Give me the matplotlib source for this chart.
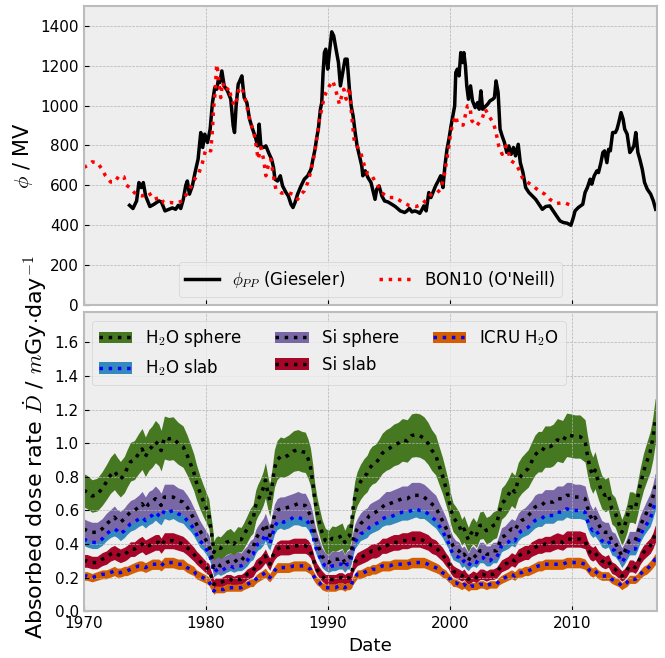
import matplotlib.pyplot as plt
import numpy as np
from matplotlib.ticker import MultipleLocator

# Force-field potential, Gieseler monthly series
phi_pp_year = [1973.75, 1974.03, 1974.33, 1974.52, 1974.71, 1974.88, 1975.07, 1975.42, 1975.75, 1976.16,
               1976.36, 1976.66, 1976.99, 1977.26, 1977.53, 1977.75, 1977.95, 1978.16, 1978.36, 1978.49,
               1978.66, 1978.90, 1979.12, 1979.37, 1979.59, 1979.75, 1979.92, 1980.14, 1980.36, 1980.55,
               1980.74, 1980.90, 1981.04, 1981.15, 1981.32, 1981.51, 1981.78, 1982.05, 1982.25, 1982.36,
               1982.49, 1982.66, 1982.79, 1982.96, 1983.15, 1983.37, 1983.59, 1983.84, 1984.08, 1984.25,
               1984.38, 1984.52, 1984.74, 1984.93, 1985.21, 1985.40, 1985.56, 1985.67, 1985.89, 1986.11,
               1986.30, 1986.58, 1986.77, 1986.99, 1987.15, 1987.32, 1987.53, 1987.81, 1988.08, 1988.36,
               1988.63, 1988.79, 1988.96, 1989.10, 1989.23, 1989.40, 1989.51, 1989.62, 1989.73, 1989.84,
               1990.00, 1990.14, 1990.33, 1990.49, 1990.68, 1990.88, 1991.04, 1991.23, 1991.42, 1991.59,
               1991.78, 1991.92, 1992.08, 1992.25, 1992.41, 1992.60, 1992.79, 1992.88, 1993.07, 1993.29,
               1993.55, 1993.75, 1993.88, 1994.02, 1994.21, 1994.44, 1994.66, 1994.93, 1995.26, 1995.54,
               1995.95, 1996.31, 1996.50, 1996.69, 1996.91, 1997.13, 1997.36, 1997.55, 1997.74, 1997.88,
               1998.07, 1998.29, 1998.46, 1998.62, 1998.84, 1999.06, 1999.26, 1999.45, 1999.61, 1999.78,
               1999.94, 2000.11, 2000.28, 2000.41, 2000.50, 2000.63, 2000.77, 2000.91, 2001.05, 2001.16,
               2001.29, 2001.40, 2001.54, 2001.71, 2001.87, 2002.09, 2002.29, 2002.42, 2002.56, 2002.70,
               2002.92, 2003.11, 2003.31, 2003.53, 2003.67, 2003.80, 2003.97, 2004.13, 2004.30, 2004.49,
               2004.68, 2004.85, 2005.04, 2005.23, 2005.40, 2005.62, 2005.79, 2006.01, 2006.23, 2006.50,
               2006.78, 2007.05, 2007.33, 2007.60, 2007.88, 2008.21, 2008.48, 2008.76, 2009.04, 2009.31,
               2009.64, 2009.94, 2010.14, 2010.28, 2010.55, 2010.91, 2011.10, 2011.29, 2011.52, 2011.65,
               2011.85, 2012.07, 2012.20, 2012.40, 2012.56, 2012.70, 2012.89, 2013.03, 2013.17, 2013.36,
               2013.58, 2013.72, 2013.86, 2014.05, 2014.22, 2014.35, 2014.55, 2014.77, 2014.96, 2015.10,
               2015.26, 2015.43, 2015.59, 2015.79, 2015.98, 2016.20, 2016.48, 2016.70, 2016.89]
phi_pp = [500, 484, 522, 614, 589, 614, 547, 494, 505, 522,
          517, 472, 480, 487, 480, 500, 484, 530, 600, 622,
          556, 597, 664, 731, 865, 790, 857, 815, 882, 1015,
          1091, 1082, 1132, 1116, 1174, 1099, 1074, 1032, 898, 865,
          999, 1107, 1124, 1149, 1040, 1015, 932, 882, 840, 798,
          907, 798, 790, 798, 756, 731, 689, 631, 622, 648,
          597, 564, 547, 505, 489, 514, 556, 597, 631, 648,
          681, 731, 781, 840, 882, 982, 1015, 1166, 1266, 1283,
          1183, 1266, 1370, 1350, 1283, 1216, 1099, 1166, 1233, 1233,
          1082, 999, 949, 865, 798, 748, 698, 648, 673, 640,
          614, 564, 530, 581, 597, 547, 522, 517, 505, 494,
          472, 464, 472, 484, 467, 472, 467, 460, 480, 497,
          472, 564, 539, 564, 597, 622, 648, 589, 698, 781,
          832, 898, 957, 999, 1166, 1183, 1149, 1266, 1216, 1266,
          1199, 1099, 1032, 1099, 1024, 990, 1015, 982, 1074, 982,
          995, 1007, 1024, 1032, 1040, 1124, 1066, 882, 848, 815,
          765, 798, 756, 790, 748, 806, 714, 664, 589, 564,
          547, 530, 505, 480, 494, 497, 472, 447, 422, 414,
          410, 400, 439, 472, 489, 505, 564, 589, 631, 606,
          648, 673, 664, 714, 765, 773, 714, 781, 773, 865,
          865, 882, 915, 965, 932, 882, 857, 765, 781, 798,
          865, 765, 731, 681, 614, 581, 556, 522, 480]

# BON10 (O'Neill) potential
bon10_year = [1970.00, 1970.27, 1970.68, 1971.10, 1971.50, 1971.78, 1972.20, 1972.55, 1972.88, 1973.29,
              1973.48, 1973.92, 1974.25, 1974.79, 1975.34, 1975.70, 1976.30, 1976.58, 1977.07, 1977.62,
              1978.08, 1978.49, 1978.82, 1979.12, 1979.45, 1979.73, 1980.00, 1980.41, 1980.55, 1980.63,
              1980.74, 1980.82, 1980.90, 1981.01, 1981.12, 1981.23, 1981.37, 1981.64, 1981.92, 1982.05,
              1982.33, 1982.55, 1982.74, 1983.01, 1983.21, 1983.42, 1983.64, 1983.84, 1984.03, 1984.19,
              1984.30, 1984.52, 1984.74, 1984.93, 1985.12, 1985.34, 1985.62, 1985.75, 1986.22, 1986.71,
              1987.12, 1987.53, 1987.81, 1988.08, 1988.36, 1988.55, 1988.77, 1988.96, 1989.10, 1989.23,
              1989.34, 1989.51, 1989.67, 1989.86, 1990.14, 1990.41, 1990.60, 1990.82, 1990.96, 1991.15,
              1991.32, 1991.51, 1991.78, 1991.92, 1992.05, 1992.19, 1992.47, 1992.74, 1993.01, 1993.29,
              1993.60, 1993.94, 1994.29, 1994.57, 1994.98, 1995.54, 1996.09, 1996.64, 1997.25, 1997.74,
              1998.24, 1998.57, 1998.98, 1999.26, 1999.53, 1999.72, 1999.94, 2000.08, 2000.28, 2000.50,
              2000.63, 2000.83, 2001.10, 2001.27, 2001.46, 2001.65, 2001.82, 2002.20, 2002.64, 2002.92,
              2003.19, 2003.58, 2003.80, 2004.02, 2004.30, 2004.63, 2005.04, 2005.45, 2005.73, 2006.01,
              2006.42, 2006.83, 2007.33, 2007.80, 2008.21, 2008.76, 2009.37, 2009.94]
bon10 = [690, 698, 718, 714, 681, 648, 617, 617, 648, 643,
         602, 581, 556, 547, 564, 530, 539, 511, 514, 511,
         522, 564, 597, 634, 664, 714, 781, 773, 882, 982,
         1049, 1132, 1207, 1166, 1091, 1040, 1116, 1074, 1091, 1049,
         999, 1032, 1091, 1082, 1040, 982, 924, 882, 840, 773,
         731, 790, 731, 648, 698, 731, 622, 581, 561, 564,
         556, 530, 556, 572, 614, 656, 714, 773, 832, 890,
         940, 982, 1032, 1066, 1099, 1124, 1091, 1040, 1007, 1049,
         1082, 1032, 1091, 982, 898, 815, 790, 756, 698, 656,
         651, 614, 581, 556, 539, 539, 517, 500, 494, 505,
         539, 561, 564, 581, 639, 714, 798, 865, 915, 949,
         912, 907, 902, 949, 999, 995, 924, 898, 932, 982,
         949, 915, 865, 798, 756, 798, 723, 706, 673, 631,
         614, 597, 572, 556, 530, 509, 514, 500]

# Absorbed dose rate (mGy/day) for the five target geometries
dose_year = [1970.00, 1970.27, 1970.68, 1971.09, 1971.50, 1971.86, 1972.19, 1972.51, 1972.73, 1973.00,
             1973.33, 1973.55, 1973.83, 1974.15, 1974.51, 1974.78, 1975.05, 1975.33, 1975.60, 1975.87,
             1976.15, 1976.34, 1976.61, 1976.97, 1977.32, 1977.73, 1978.14, 1978.47, 1978.74, 1979.02,
             1979.23, 1979.51, 1979.78, 1980.05, 1980.25, 1980.38, 1980.55, 1980.66, 1980.79, 1980.98,
             1981.20, 1981.48, 1981.69, 1982.02, 1982.30, 1982.62, 1982.90, 1983.11, 1983.39, 1983.66,
             1983.88, 1984.10, 1984.26, 1984.48, 1984.70, 1984.89, 1985.08, 1985.25, 1985.44, 1985.63,
             1985.85, 1986.12, 1986.38, 1986.79, 1987.21, 1987.56, 1987.89, 1988.16, 1988.38, 1988.58,
             1988.77, 1988.93, 1989.12, 1989.32, 1989.53, 1989.81, 1990.08, 1990.36, 1990.63, 1990.90,
             1991.18, 1991.40, 1991.59, 1991.78, 1991.95, 1992.05, 1992.22, 1992.41, 1992.68, 1992.96,
             1993.23, 1993.42, 1993.64, 1993.92, 1994.19, 1994.47, 1994.79, 1995.07, 1995.42, 1995.78,
             1996.11, 1996.52, 1996.88, 1997.21, 1997.53, 1997.89, 1998.22, 1998.52, 1998.85, 1999.12,
             1999.40, 1999.67, 1999.89, 2000.08, 2000.27, 2000.49, 2000.77, 2000.99, 2001.18, 2001.37,
             2001.53, 2001.73, 2001.92, 2002.19, 2002.47, 2002.74, 2003.01, 2003.29, 2003.56, 2003.84,
             2004.05, 2004.25, 2004.52, 2004.79, 2005.07, 2005.34, 2005.62, 2005.89, 2006.16, 2006.44,
             2006.71, 2006.99, 2007.26, 2007.53, 2007.81, 2008.22, 2008.49, 2008.82, 2009.26, 2009.59,
             2009.92, 2010.27, 2010.68, 2011.10, 2011.29, 2011.51, 2011.73, 2011.92, 2012.19, 2012.47,
             2012.74, 2013.01, 2013.29, 2013.56, 2013.84, 2014.11, 2014.30, 2014.52, 2014.74, 2015.01,
             2015.21, 2015.40, 2015.62, 2015.89, 2016.16, 2016.44, 2016.66, 2016.85, 2017.00]
h2o_sphere = [0.72, 0.71, 0.686, 0.694, 0.73, 0.77, 0.81, 0.834, 0.81, 0.786,
              0.814, 0.85, 0.89, 0.90, 0.94, 0.966, 0.92, 0.96, 0.98, 1.01,
              0.99, 0.956, 1.034, 1.026, 1.03, 1.0, 0.98, 0.93, 0.88, 0.826,
              0.77, 0.71, 0.66, 0.614, 0.58, 0.51, 0.43, 0.35, 0.37, 0.38,
              0.374, 0.394, 0.41, 0.42, 0.40, 0.43, 0.426, 0.45, 0.49, 0.53,
              0.55, 0.63, 0.66, 0.69, 0.73, 0.78, 0.71, 0.66, 0.75, 0.85,
              0.90, 0.92, 0.914, 0.93, 0.954, 0.96, 0.95, 0.946, 0.91, 0.86,
              0.77, 0.67, 0.59, 0.53, 0.47, 0.42, 0.41, 0.434, 0.43, 0.44,
              0.45, 0.41, 0.44, 0.45, 0.51, 0.60, 0.68, 0.73, 0.77, 0.80,
              0.82, 0.85, 0.87, 0.88, 0.906, 0.94, 0.96, 0.97, 0.99, 1.0,
              1.02, 1.014, 1.046, 1.05, 1.046, 1.03, 1.0, 0.96, 0.93, 0.87,
              0.81, 0.74, 0.68, 0.61, 0.56, 0.54, 0.51, 0.47, 0.49, 0.454,
              0.426, 0.46, 0.48, 0.455, 0.51, 0.514, 0.48, 0.49, 0.51, 0.52,
              0.58, 0.64, 0.66, 0.69, 0.73, 0.71, 0.78, 0.81, 0.83, 0.85,
              0.89, 0.93, 0.95, 0.95, 0.98, 0.98, 0.99, 1.02, 1.01, 1.05,
              1.046, 1.04, 1.04, 1.014, 0.93, 0.85, 0.81, 0.84, 0.77, 0.71,
              0.69, 0.70, 0.61, 0.59, 0.53, 0.47, 0.50, 0.55, 0.62, 0.62,
              0.61, 0.67, 0.75, 0.83, 0.89, 0.95, 1.03, 1.13, 1.12]
si_sphere = [0.49, 0.48, 0.47, 0.47, 0.49, 0.52, 0.54, 0.56, 0.54, 0.53,
             0.55, 0.57, 0.59, 0.60, 0.62, 0.64, 0.61, 0.64, 0.65, 0.67,
             0.65, 0.63, 0.68, 0.68, 0.68, 0.66, 0.65, 0.62, 0.59, 0.55,
             0.52, 0.48, 0.45, 0.42, 0.40, 0.36, 0.31, 0.26, 0.27, 0.28,
             0.27, 0.28, 0.29, 0.30, 0.29, 0.31, 0.30, 0.32, 0.34, 0.37,
             0.38, 0.43, 0.45, 0.47, 0.49, 0.52, 0.48, 0.45, 0.51, 0.57,
             0.60, 0.61, 0.61, 0.62, 0.63, 0.64, 0.63, 0.63, 0.60, 0.57,
             0.52, 0.46, 0.41, 0.37, 0.33, 0.30, 0.29, 0.31, 0.31, 0.31,
             0.32, 0.29, 0.31, 0.32, 0.36, 0.41, 0.46, 0.49, 0.52, 0.54,
             0.55, 0.57, 0.58, 0.59, 0.60, 0.62, 0.64, 0.64, 0.65, 0.66,
             0.67, 0.67, 0.69, 0.69, 0.69, 0.68, 0.66, 0.64, 0.62, 0.58,
             0.54, 0.50, 0.46, 0.42, 0.39, 0.37, 0.36, 0.33, 0.34, 0.32,
             0.30, 0.33, 0.34, 0.32, 0.36, 0.36, 0.34, 0.34, 0.36, 0.36,
             0.40, 0.44, 0.45, 0.47, 0.49, 0.48, 0.52, 0.54, 0.55, 0.57,
             0.59, 0.62, 0.63, 0.63, 0.65, 0.65, 0.65, 0.67, 0.67, 0.69,
             0.69, 0.68, 0.68, 0.67, 0.62, 0.57, 0.54, 0.56, 0.52, 0.48,
             0.47, 0.47, 0.42, 0.41, 0.37, 0.33, 0.35, 0.38, 0.42, 0.42,
             0.42, 0.46, 0.51, 0.55, 0.59, 0.63, 0.68, 0.74, 0.73]
h2o_slab = [0.43, 0.42, 0.41, 0.41, 0.43, 0.46, 0.48, 0.49, 0.48, 0.46,
            0.48, 0.50, 0.52, 0.53, 0.55, 0.56, 0.54, 0.56, 0.57, 0.59,
            0.57, 0.56, 0.60, 0.59, 0.60, 0.58, 0.57, 0.54, 0.52, 0.49,
            0.46, 0.42, 0.40, 0.37, 0.35, 0.32, 0.27, 0.23, 0.24, 0.25,
            0.24, 0.25, 0.26, 0.27, 0.26, 0.27, 0.27, 0.28, 0.30, 0.33,
            0.34, 0.38, 0.40, 0.41, 0.43, 0.46, 0.42, 0.40, 0.45, 0.50,
            0.53, 0.54, 0.53, 0.54, 0.56, 0.56, 0.55, 0.55, 0.53, 0.50,
            0.46, 0.40, 0.36, 0.33, 0.29, 0.27, 0.26, 0.27, 0.27, 0.28,
            0.28, 0.26, 0.28, 0.28, 0.32, 0.36, 0.41, 0.43, 0.46, 0.47,
            0.48, 0.50, 0.51, 0.52, 0.53, 0.55, 0.56, 0.56, 0.57, 0.58,
            0.59, 0.59, 0.60, 0.61, 0.60, 0.60, 0.58, 0.56, 0.54, 0.51,
            0.48, 0.44, 0.41, 0.37, 0.34, 0.33, 0.32, 0.29, 0.30, 0.28,
            0.27, 0.29, 0.30, 0.29, 0.32, 0.32, 0.30, 0.30, 0.32, 0.32,
            0.35, 0.39, 0.40, 0.41, 0.43, 0.42, 0.46, 0.48, 0.49, 0.50,
            0.52, 0.54, 0.55, 0.55, 0.57, 0.57, 0.57, 0.59, 0.59, 0.61,
            0.60, 0.60, 0.60, 0.59, 0.54, 0.50, 0.48, 0.49, 0.46, 0.42,
            0.41, 0.42, 0.37, 0.36, 0.33, 0.29, 0.31, 0.34, 0.37, 0.37,
            0.37, 0.40, 0.45, 0.49, 0.52, 0.55, 0.60, 0.65, 0.64]
si_slab = [0.30, 0.30, 0.29, 0.29, 0.31, 0.32, 0.34, 0.35, 0.34, 0.33,
           0.34, 0.35, 0.37, 0.37, 0.39, 0.40, 0.38, 0.39, 0.40, 0.41,
           0.41, 0.39, 0.42, 0.42, 0.42, 0.41, 0.40, 0.38, 0.36, 0.34,
           0.32, 0.30, 0.28, 0.26, 0.25, 0.22, 0.19, 0.16, 0.17, 0.17,
           0.17, 0.18, 0.19, 0.19, 0.18, 0.19, 0.19, 0.20, 0.22, 0.23,
           0.24, 0.27, 0.28, 0.29, 0.31, 0.33, 0.30, 0.28, 0.32, 0.35,
           0.37, 0.38, 0.38, 0.38, 0.39, 0.39, 0.39, 0.39, 0.38, 0.36,
           0.32, 0.28, 0.25, 0.23, 0.21, 0.19, 0.19, 0.19, 0.19, 0.20,
           0.20, 0.19, 0.20, 0.20, 0.22, 0.26, 0.29, 0.31, 0.32, 0.33,
           0.34, 0.35, 0.36, 0.36, 0.37, 0.39, 0.39, 0.40, 0.41, 0.41,
           0.42, 0.42, 0.43, 0.43, 0.43, 0.42, 0.41, 0.39, 0.38, 0.36,
           0.34, 0.31, 0.29, 0.26, 0.24, 0.23, 0.22, 0.21, 0.22, 0.20,
           0.19, 0.20, 0.21, 0.20, 0.22, 0.22, 0.21, 0.22, 0.22, 0.23,
           0.25, 0.27, 0.28, 0.29, 0.31, 0.30, 0.33, 0.34, 0.35, 0.35,
           0.37, 0.38, 0.39, 0.39, 0.40, 0.40, 0.41, 0.42, 0.41, 0.43,
           0.43, 0.43, 0.43, 0.42, 0.38, 0.35, 0.34, 0.35, 0.32, 0.30,
           0.29, 0.30, 0.26, 0.25, 0.23, 0.21, 0.22, 0.24, 0.27, 0.27,
           0.26, 0.28, 0.32, 0.35, 0.37, 0.39, 0.42, 0.46, 0.46]
icru_h2o = [0.21, 0.21, 0.20, 0.21, 0.22, 0.22, 0.23, 0.24, 0.23, 0.23,
            0.24, 0.24, 0.25, 0.26, 0.27, 0.27, 0.26, 0.27, 0.28, 0.28,
            0.28, 0.27, 0.29, 0.29, 0.29, 0.28, 0.28, 0.26, 0.25, 0.24,
            0.22, 0.21, 0.20, 0.19, 0.18, 0.16, 0.14, 0.12, 0.13, 0.13,
            0.13, 0.13, 0.14, 0.14, 0.14, 0.14, 0.14, 0.15, 0.16, 0.17,
            0.17, 0.19, 0.20, 0.21, 0.22, 0.23, 0.21, 0.20, 0.22, 0.24,
            0.26, 0.26, 0.26, 0.26, 0.27, 0.27, 0.27, 0.27, 0.26, 0.25,
            0.22, 0.20, 0.18, 0.17, 0.15, 0.14, 0.14, 0.14, 0.14, 0.15,
            0.15, 0.14, 0.15, 0.15, 0.16, 0.18, 0.20, 0.22, 0.22, 0.23,
            0.24, 0.24, 0.25, 0.25, 0.26, 0.27, 0.27, 0.27, 0.28, 0.28,
            0.28, 0.28, 0.29, 0.29, 0.29, 0.29, 0.28, 0.27, 0.26, 0.25,
            0.23, 0.22, 0.20, 0.19, 0.17, 0.17, 0.16, 0.15, 0.16, 0.15,
            0.14, 0.15, 0.15, 0.15, 0.16, 0.16, 0.15, 0.16, 0.16, 0.16,
            0.18, 0.19, 0.20, 0.21, 0.22, 0.21, 0.23, 0.23, 0.24, 0.24,
            0.25, 0.26, 0.27, 0.27, 0.28, 0.28, 0.28, 0.28, 0.28, 0.29,
            0.29, 0.29, 0.29, 0.28, 0.26, 0.24, 0.23, 0.24, 0.22, 0.21,
            0.21, 0.21, 0.19, 0.18, 0.17, 0.15, 0.16, 0.17, 0.19, 0.19,
            0.19, 0.20, 0.22, 0.24, 0.25, 0.27, 0.29, 0.31, 0.31]

# uncertainty of each dose curve: relative part, absolute part (mGy/day)
dose_err = {
    'h2o_sphere': (0.09, 0.035),
    'h2o_slab': (0.06, 0.012),
    'si_sphere': (0.08, 0.022),
    'si_slab': (0.08, 0.014),
    'icru_h2o': (0.07, 0.011),
}

plt.style.use('bmh')
plt.rcParams['font.size'] = 11
plt.rcParams['axes.linewidth'] = 1.5
plt.rcParams['legend.fontsize'] = 12

fig, (ax1, ax2) = plt.subplots(2, 1, sharex=True, figsize=(6.65, 6.58), dpi=100)
fig.subplots_adjust(left=0.126, right=0.988, top=0.991, bottom=0.071, hspace=0.024)

# --- modulation potential ---
ax1.plot(phi_pp_year, phi_pp, color='k', lw=2.5, label=r'$\phi_{PP}$ (Gieseler)')
ax1.plot(bon10_year, bon10, 'r:', lw=2.5, label="BON10 (O'Neill)")
ax1.set_ylim(0, 1500)
ax1.yaxis.set_major_locator(MultipleLocator(200))
ax1.set_ylabel(r'$\phi$ / MV', fontsize=15)
ax1.legend(loc='lower center', ncol=2)

# --- dose rates ---
x = np.array(dose_year)
series = [
    ('h2o_sphere', h2o_sphere, r'H$_2$O sphere', '#467821', 'k'),
    ('h2o_slab', h2o_slab, r'H$_2$O slab', '#348ABD', 'b'),
    ('si_sphere', si_sphere, 'Si sphere', '#7A68A6', 'k'),
    ('si_slab', si_slab, 'Si slab', '#A60628', 'k'),
    ('icru_h2o', icru_h2o, r'ICRU H$_2$O', '#D55E00', 'b'),
]
handles, labels = [], []
for key, vals, lab, fill_col, dot_col in series:
    y = np.array(vals)
    rel, ab = dose_err[key]
    hw = rel * y + ab
    band = ax2.fill_between(x, y - hw, y + hw, color=fill_col, alpha=1.0, lw=0)
    line, = ax2.plot(x, y, ':', color=dot_col, lw=2.5)
    handles.append((band, line))
    labels.append(lab)

ax2.legend(handles, labels, loc='upper left', ncol=3)
ax2.set_ylim(0, 1.78)
ax2.yaxis.set_major_locator(MultipleLocator(0.2))
ax2.set_xlim(1970, 2017)
ax2.set_xlabel('Date')
ax2.set_ylabel(r'Absorbed dose rate $\dot{D}$ / $m$Gy$\cdot$day$^{-1}$', fontsize=16)
ax2.yaxis.label.set_y(0.55)

plt.savefig('out.png')
